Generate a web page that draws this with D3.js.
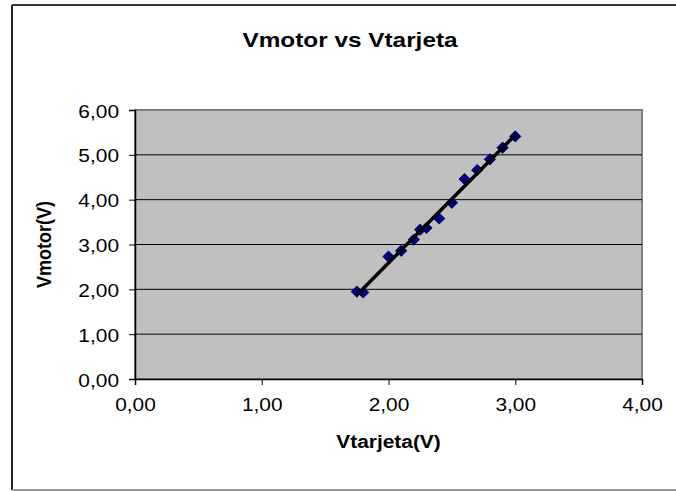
<!DOCTYPE html>
<html>
<head>
<meta charset='utf-8'>
<style>
body { margin: 0; background: #fff; }
text { font-family: Arial, 'Liberation Sans', sans-serif; fill: #000; }
</style>
<script src='https://cdnjs.cloudflare.com/ajax/libs/d3/7.8.5/d3.min.js'></script>
</head>
<body>
<svg id='chart1' width='676' height='491'></svg>
<script>
// Vtarjeta (x) and Vmotor (y)
var vtarjeta = [1.75, 1.80, 2.00, 2.10, 2.20, 2.25, 2.30, 2.40, 2.50, 2.60, 2.70, 2.80, 2.90, 3.00];
var vmotor   = [1.95, 1.93, 2.73, 2.86, 3.11, 3.33, 3.37, 3.58, 3.93, 4.46, 4.66, 4.90, 5.16, 5.41];
var xTicks = [0, 1, 2, 3, 4];
var yTicks = [0, 1, 2, 3, 4, 5, 6];
var chartTitle = 'Vmotor vs Vtarjeta';
var xAxisLabel = 'Vtarjeta(V)';
var yAxisLabel = 'Vmotor(V)';

var svg = d3.select('#chart1');
var plot = {left: 135, top: 110, right: 642, bottom: 379};
var stretch = 1.16; // the original picture is a bit wider than tall

var fmt = function(d) { return d3.format('.2f')(d).replace('.', ','); };

var x = d3.scaleLinear().domain([0, 4]).range([plot.left, plot.right]);
var y = d3.scaleLinear().domain([0, 6]).range([plot.bottom, plot.top]);

// outer frame
svg.append('line').attr('x1', 12).attr('y1', 5).attr('x2', 12).attr('y2', 490)
    .attr('stroke', '#222').attr('stroke-width', 2);
svg.append('line').attr('x1', 12).attr('y1', 5).attr('x2', 676).attr('y2', 5)
    .attr('stroke', '#333').attr('stroke-width', 2);
svg.append('line').attr('x1', 12).attr('y1', 490).attr('x2', 676).attr('y2', 490)
    .attr('stroke', '#999').attr('stroke-width', 2);

// plot area
svg.append('rect')
    .attr('x', plot.left).attr('y', plot.top)
    .attr('width', plot.right - plot.left).attr('height', plot.bottom - plot.top)
    .attr('fill', '#c0c0c0').attr('stroke', '#808080').attr('stroke-width', 2);

// gridlines
svg.append('g').selectAll('line').data(yTicks.slice(1, -1)).enter().append('line')
    .attr('x1', plot.left).attr('x2', plot.right)
    .attr('y1', function(d) { return y(d); }).attr('y2', function(d) { return y(d); })
    .attr('stroke', '#000').attr('stroke-width', 1);

var xAxis = svg.append('g')
    .attr('transform', 'translate(0,' + plot.bottom + ')')
    .call(d3.axisBottom(x).tickValues(xTicks).tickFormat(fmt).tickSize(6));
var yAxis = svg.append('g')
    .attr('transform', 'translate(' + plot.left + ',0)')
    .call(d3.axisLeft(y).tickValues(yTicks).tickFormat(fmt).tickSize(6));
[xAxis, yAxis].forEach(function(a) {
  a.attr('font-family', null).attr('font-size', null);
  a.select('.domain').attr('stroke', '#000').attr('stroke-width', 1.5);
  a.selectAll('.tick line').attr('stroke', '#000');
  a.selectAll('.tick text').attr('font-size', 18).attr('fill', '#000');
});
xAxis.selectAll('.tick text')
    .attr('x', 0).attr('y', 0).attr('dy', null)
    .attr('transform', 'translate(0,32) scale(' + stretch + ',1)');
yAxis.selectAll('.tick text')
    .attr('x', 0).attr('y', 0).attr('dy', null)
    .attr('transform', 'translate(-16,7) scale(' + stretch + ',1)');

// trendline (least squares fit of the points)
var pts = vtarjeta.map(function(v, i) { return [v, vmotor[i]]; });
var mx = d3.mean(vtarjeta), my = d3.mean(vmotor);
var slope = d3.sum(pts, function(p) { return (p[0] - mx) * (p[1] - my); }) /
            d3.sum(pts, function(p) { return (p[0] - mx) * (p[0] - mx); });
var icpt = my - slope * mx;
var trend = d3.extent(vtarjeta).map(function(v) { return [v, icpt + slope * v]; });

// markers
svg.append('g').selectAll('path').data(pts).enter().append('path')
    .attr('d', d3.symbol().type(d3.symbolDiamond2).size(80))
    .attr('transform', function(d) { return 'translate(' + x(d[0]) + ',' + y(d[1]) + ')'; })
    .attr('fill', '#000080').attr('stroke', '#00005a').attr('stroke-width', 1);

svg.append('path').datum(trend)
    .attr('d', d3.line().x(function(d) { return x(d[0]); }).y(function(d) { return y(d[1]); }))
    .attr('stroke', '#000').attr('stroke-width', 3.5).attr('fill', 'none');

// titles
svg.append('text').attr('transform', 'translate(350,47) scale(' + stretch + ',1)')
    .attr('text-anchor', 'middle')
    .attr('font-size', 21).attr('font-weight', 'bold').text(chartTitle);
svg.append('text')
    .attr('transform', 'translate(' + (plot.left + plot.right) / 2 + ',448) scale(' + stretch + ',1)')
    .attr('text-anchor', 'middle')
    .attr('font-size', 18).attr('font-weight', 'bold').text(xAxisLabel);
svg.append('text').attr('transform', 'translate(51,' + (plot.top + plot.bottom) / 2 + ') rotate(-90) scale(1,' + stretch + ')')
    .attr('text-anchor', 'middle')
    .attr('font-size', 18).attr('font-weight', 'bold').text(yAxisLabel);
</script>
</body>
</html>
